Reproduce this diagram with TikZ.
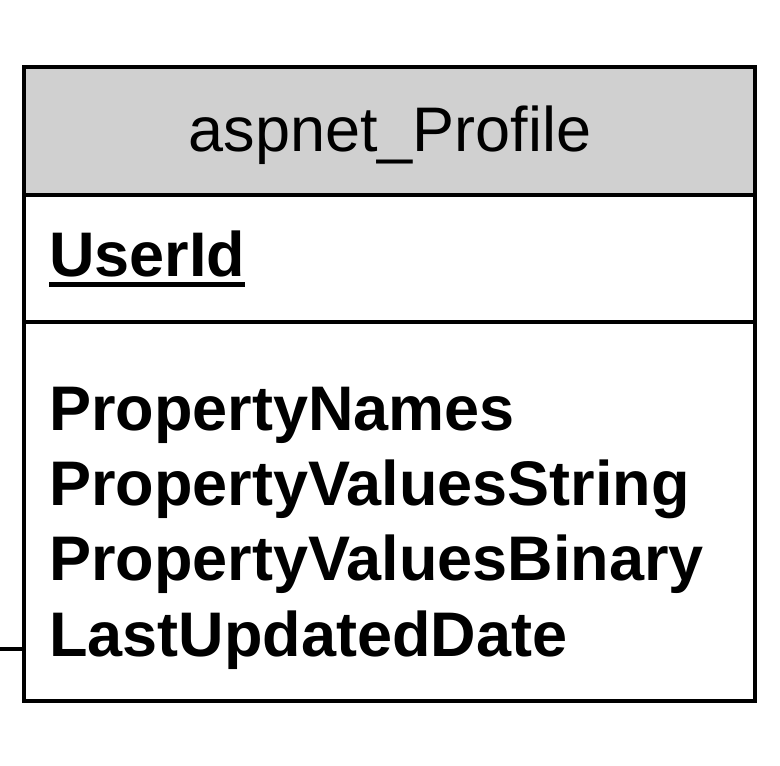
\documentclass[tikz,border=0pt]{standalone}
\usepackage{fontspec}
\setmainfont{Liberation Sans}
\definecolor{hdrgray}{HTML}{D0D0D0}
\tikzset{
  frame/.style={draw=black, line width=4pt, inner sep=0pt, outer sep=0pt},
  hdrtext/.style={font=\fontsize{63}{63}\selectfont, inner sep=0pt, anchor=base},
  fieldtext/.style={font=\fontsize{63}{63}\selectfont\bfseries, inner sep=0pt, anchor=base west},
}
\begin{document}
\begin{tikzpicture}[x=1pt,y=-1pt]
\useasboundingbox (0,0) rectangle (780,766);
% header fill
\fill[hdrgray] (24,67) rectangle (755,195);
% outer box
\node[frame, minimum width=731pt, minimum height=634pt, anchor=north west] (box) at (24,67) {};
% dividers
\coordinate (d1l) at (24,195);
\coordinate (d1r) at (755,195);
\coordinate (d2l) at (24,322);
\coordinate (d2r) at (755,322);
\draw[line width=4pt] (d1l) -- (d1r);
\draw[line width=4pt] (d2l) -- (d2r);
% texts
\node[hdrtext] (title) at (390,151) {aspnet\_Profile};
\node[fieldtext] (uid) at (49,276) {UserId};
\draw[line width=5pt] ([yshift=-8pt]uid.base west) -- ([yshift=-8pt]uid.base east);
\node[fieldtext] (f1) at (49,430) {PropertyNames};
\node[fieldtext] (f2) at (49,505) {PropertyValuesString};
\node[fieldtext] (f3) at (49,580) {PropertyValuesBinary};
\node[fieldtext] (f4) at (49,656) {LastUpdatedDate};
% stub connector
\coordinate (stub) at (0,649);
\draw[line width=4pt] (stub) -- (stub -| box.west);
\end{tikzpicture}
\end{document}
